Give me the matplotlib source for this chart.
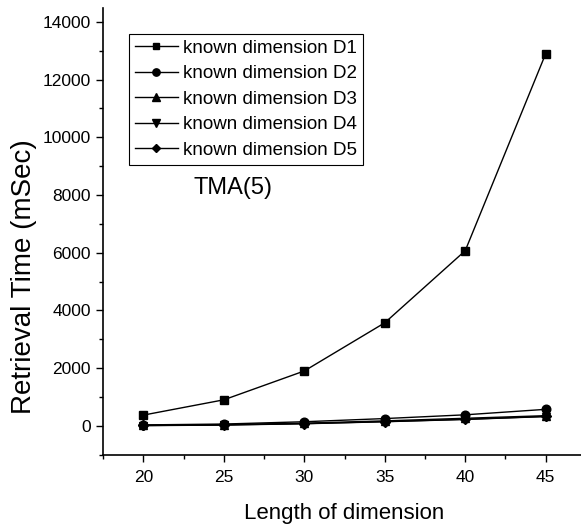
import matplotlib
matplotlib.use("Agg")
import matplotlib.pyplot as plt
from matplotlib.ticker import MultipleLocator

plt.rcParams['font.family'] = ['Liberation Sans', 'DejaVu Sans']

lengths = [20, 25, 30, 35, 40, 45]
d1 = [370, 900, 1900, 3570, 6070, 12900]
d2 = [30, 60, 140, 250, 380, 570]
d3 = [15, 40, 90, 170, 260, 350]
d4 = [5, 25, 70, 140, 220, 320]
d5 = [10, 30, 75, 145, 225, 325]
labels = ['known dimension D1', 'known dimension D2', 'known dimension D3',
          'known dimension D4', 'known dimension D5']
markers = ['s', 'o', '^', 'v', 'D']
msizes = [5.8, 6.2, 6.2, 6.2, 5.0]

fig = plt.figure(figsize=(5.81, 5.26), dpi=100)
ax = fig.add_axes([0.1775, 0.1357, 0.831, 0.85])

for series, m, ms, lab in zip([d1, d2, d3, d4, d5], markers, msizes, labels):
    ax.plot(lengths, series, color='black', marker=m, markersize=ms, linewidth=1.0, label=lab)

ax.set_xlim(17.5, 47.5)
ax.set_ylim(-1000, 14500)
ax.set_xticks(lengths)
ax.set_yticks(range(0, 14001, 2000))
ax.xaxis.set_minor_locator(MultipleLocator(2.5))
ax.yaxis.set_minor_locator(MultipleLocator(1000))
ax.tick_params(which='major', direction='out', length=5, width=1, labelsize=12.5)
ax.tick_params(which='minor', direction='out', length=3, width=1)
ax.tick_params(axis='x', which='major', pad=6)
ax.tick_params(axis='y', which='major', pad=4)

for s in ['top', 'right']:
    ax.spines[s].set_visible(False)
for s in ['left', 'bottom']:
    ax.spines[s].set_linewidth(1.2)

ax.set_xlabel('Length of dimension', fontsize=16, labelpad=13)
ax.set_ylabel('Retrieval Time (mSec)', fontsize=20)
ax.yaxis.set_label_coords(-0.137, 0.397)

leg = ax.legend(loc='upper left', bbox_to_anchor=(129 / 581, 1 - 34 / 526),
                bbox_transform=fig.transFigure, borderaxespad=0, fontsize=13.5,
                frameon=True, fancybox=False, edgecolor='black', framealpha=1,
                handlelength=2.3, handletextpad=0.3, borderpad=0.3, labelspacing=0.45,
                markerscale=0.85)
leg.get_frame().set_linewidth(0.8)

ax.text(25.6, 8240, 'TMA(5)', fontsize=17, ha='center', va='center')

fig.savefig('out.png', dpi=100)
